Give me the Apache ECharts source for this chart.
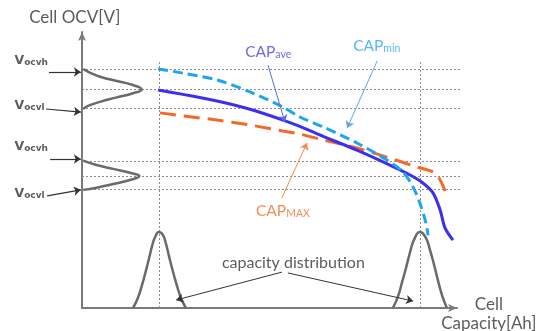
<!DOCTYPE html>
<html>
<head>
<meta charset="utf-8">
<script src="https://cdn.jsdelivr.net/npm/echarts@6/dist/echarts.min.js"></script>
<style>
html,body{margin:0;padding:0;background:#fff;}
#chart{width:542px;height:331px;}
</style>
</head>
<body>
<div id="chart"></div>
<script>
// ---- data (schematic units: x = capacity, y = OCV) ----
const ocvLevels = [8.66, 7.93, 7.25, 5.33, 4.78, 4.31];
const capMarks = [2.05, 9.01];
const levelEnd = 10.11;
const capMarkTop = 8.9;

const capMin = [[2.03,8.66],[2.69,8.51],[3.60,8.26],[4.48,7.83],[5.36,7.28],[5.81,6.92],[6.43,6.56],[7.33,5.98],[8.13,5.36],[8.56,4.93],[8.83,4.38],[9.01,3.80],[9.15,3.19],[9.23,2.64]];
const capAve = [[2.03,7.90],[2.69,7.74],[3.60,7.50],[4.48,7.20],[5.36,6.81],[5.81,6.58],[6.43,6.22],[7.33,5.72],[8.21,5.18],[8.75,4.82],[9.09,4.53],[9.36,4.17],[9.55,3.55],[9.68,2.90],[9.89,2.46]];
const capMax = [[2.08,7.07],[2.69,6.96],[3.60,6.81],[4.48,6.63],[5.36,6.41],[5.81,6.30],[6.43,6.09],[7.33,5.80],[8.21,5.43],[8.93,5.11],[9.36,4.93],[9.55,4.64],[9.68,4.24]];

const ocvDistHigh = [[0.03,8.66],[0.21,8.53],[0.48,8.38],[1.01,8.20],[1.36,8.08],[1.59,7.92],[1.36,7.78],[0.93,7.63],[0.48,7.47],[0.16,7.32],[0.03,7.21]];
const ocvDistLow = [[0.03,5.34],[0.39,5.18],[0.83,5.04],[1.28,4.90],[1.53,4.78],[1.28,4.64],[0.83,4.49],[0.39,4.36],[0.03,4.28]];
const capDistLow = [[1.36,0],[1.49,0.36],[1.60,0.83],[1.71,1.38],[1.79,1.81],[1.87,2.25],[1.95,2.57],[2.05,2.75],[2.16,2.64],[2.24,2.32],[2.32,1.88],[2.40,1.45],[2.51,0.91],[2.64,0.36],[2.77,0]];
const capDistHigh = [[8.29,0],[8.43,0.43],[8.53,0.91],[8.64,1.45],[8.75,2.03],[8.85,2.46],[9.01,2.75],[9.17,2.54],[9.28,2.10],[9.39,1.56],[9.49,1.01],[9.60,0.47],[9.73,0]];

const vArrows = [[[-0.88,8.55],[-0.03,8.55]],[[-0.96,7.21],[-0.03,7.10]],[[-0.85,5.40],[-0.03,5.40]],[[-0.93,4.06],[-0.03,4.28]]];
const aveArrow = [[4.96,8.80],[5.41,6.74]];
const minArrow = [[7.87,8.95],[7.07,6.52]];
const maxArrow = [[5.33,3.99],[6.00,5.98]];
const distArrows = [[[5.33,1.30],[2.51,0.29]],[[5.49,1.27],[8.83,0.25]]];

const vLabels = [['ocvh',-1.80,9.02],['ocvl',-1.80,7.37],['ocvh',-1.80,5.89],['ocvl',-1.80,4.20]];

// ---- chart ----
const FONT = 'Lato';
const chart = echarts.init(document.getElementById('chart'));

function arrowSeries(list, color, width) {
  return {
    type: 'lines', coordinateSystem: 'cartesian2d', clip: false, silent: true,
    symbol: ['none', 'arrow'], symbolSize: 7, z: 6,
    lineStyle: { color: color, width: width, opacity: 1 },
    data: list.map(c => ({ coords: c }))
  };
}
function curve(data, color, width, type, sm) {
  return {
    type: 'line', data: data, smooth: sm || true, symbol: 'none', clip: false, silent: true, z: 4,
    lineStyle: { color: color, width: width, type: type || 'solid', cap: 'butt' }
  };
}
function textPoint(value, formatter, opts) {
  return {
    value: value,
    label: Object.assign({ show: true, formatter: formatter, position: [0, 0], align: 'left', verticalAlign: 'middle', fontFamily: FONT }, opts)
  };
}
function capLabel(value, sub, color, subLh) {
  return textPoint(value, '{m|CAP}{s|' + sub + '}', {
    color: color, rich: {
      m: { fontSize: 15.5, fontFamily: FONT, color: color, lineHeight: 20, verticalAlign: 'bottom' },
      s: { fontSize: 10.5, fontFamily: FONT, color: color, lineHeight: subLh, verticalAlign: 'bottom' }
    }
  });
}

const labels = [
  textPoint([-1.41, 10.54], 'Cell OCV[V]', { fontSize: 17, color: '#333' }),
  textPoint([10.85, 0.14], 'Cell', { fontSize: 17, color: '#333', align: 'center' }),
  textPoint([10.85, -0.55], 'Capacity[Ah]', { fontSize: 17, color: '#333', align: 'center' }),
  textPoint([3.73, 1.63], 'capacity distribution', { fontSize: 16, color: '#333' }),
  capLabel([4.35, 9.33], 'ave', '#4545ee', 10),
  capLabel([7.23, 9.57], 'min', '#2aa8ee', 10),
  capLabel([4.64, 3.57], 'MAX', '#f07030', 7)
].concat(vLabels.map(v => textPoint([v[1], v[2]], '{m|V}{s|' + v[0] + '}', {
  color: '#333', rich: {
    m: { fontSize: 12.5, fontWeight: 'bold', fontFamily: 'DejaVu Sans', color: '#333', lineHeight: 16, verticalAlign: 'bottom' },
    s: { fontSize: 9, fontWeight: 'bold', fontFamily: 'DejaVu Sans', color: '#333', lineHeight: 9, verticalAlign: 'bottom' }
  }
})));

const refLines = ocvLevels.map(v => ({ coords: [[0, v], [levelEnd, v]] }))
  .concat(capMarks.map(x => ({ coords: [[x, 0], [x, capMarkTop]] })));

const axisCommon = {
  type: 'value', min: 0, max: 10,
  axisLine: { show: true, symbol: ['none', 'arrow'], symbolSize: [6, 9], lineStyle: { color: '#7a7a7a', width: 2 } },
  axisTick: { show: false }, axisLabel: { show: false }, splitLine: { show: false }
};

chart.setOption({
  animation: false,
  backgroundColor: '#fff',
  grid: { left: 82, right: 85, top: 32, bottom: 23 },
  xAxis: Object.assign({}, axisCommon),
  yAxis: Object.assign({}, axisCommon),
  series: [
    { type: 'lines', coordinateSystem: 'cartesian2d', clip: false, silent: true, z: 2,
      lineStyle: { color: '#8a8a8a', width: 1, type: [2, 2], opacity: 1 }, data: refLines },
    curve(ocvDistHigh, '#6a6a6a', 2.5),
    curve(ocvDistLow, '#6a6a6a', 2.5),
    curve(capDistLow, '#6a6a6a', 2.5),
    curve(capDistHigh, '#6a6a6a', 2.5),
    curve(capMax, '#f26a2a', 3, [16, 8], 0.3),
    curve(capAve, '#3b2ff0', 3, 'solid', 0.3),
    curve(capMin, '#1ea5ee', 3, [10, 5], 0.3),
    arrowSeries(vArrows, '#333', 1.2),
    arrowSeries([aveArrow], '#5a6af0', 1),
    arrowSeries([minArrow], '#5aa8e8', 1),
    arrowSeries([maxArrow], '#f08a50', 1),
    arrowSeries(distArrows, '#333', 1),
    { type: 'scatter', symbolSize: 0, clip: false, silent: true, z: 8, data: labels }
  ]
});
</script>
</body>
</html>
